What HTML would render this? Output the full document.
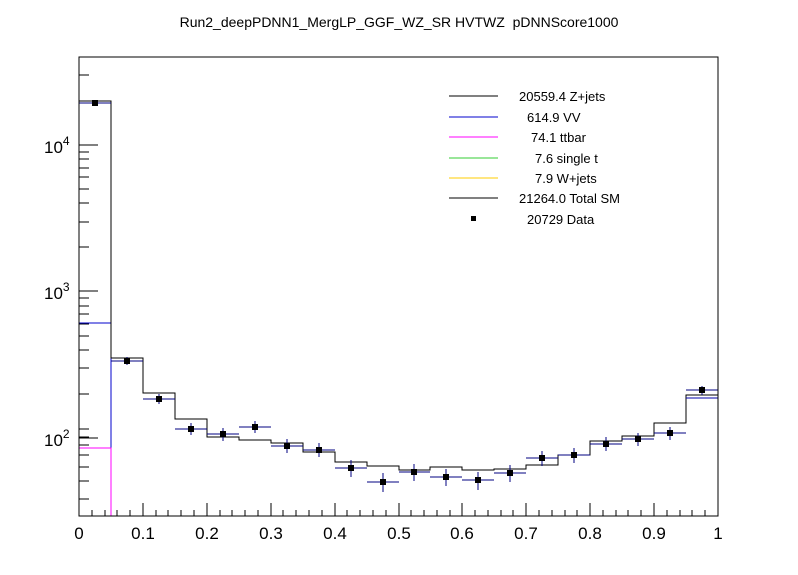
<!DOCTYPE html>
<html><head><meta charset="utf-8"><style>
body{margin:0;background:#fff;}
svg{display:block;font-family:"Liberation Sans",sans-serif;}
</style></head><body>
<svg width="798" height="575" viewBox="0 0 798 575" xmlns="http://www.w3.org/2000/svg">
<rect width="798" height="575" fill="#fff"/>
<text x="399" y="27" font-size="14" text-anchor="middle" xml:space="preserve">Run2_deepPDNN1_MergLP_GGF_WZ_SR HVTWZ  pDNNScore1000</text>
<g shape-rendering="crispEdges">
<path d="M79,323 H111 V516" fill="none" stroke="#0000cc" stroke-width="1"/>
<path d="M79,448 H111 V516" fill="none" stroke="#ff00ff" stroke-width="1"/>
<line x1="79" y1="516" x2="718" y2="516" stroke="#ffcc00" stroke-width="1"/>
<path d="M79,101 H111 V358 H143 V393 H175 V419 H207 V437 H239 V440 H271 V443 H303 V452 H335 V462 H367 V466 H399 V470 H430 V467 H462 V470 H494 V469 H526 V465 H558 V455 H590 V441 H622 V436 H654 V423 H686 V395 H718" fill="none" stroke="#000" stroke-width="1"/>
<path d="M79,103 H111 M111,361 H143 M686,398 H718" fill="none" stroke="#0000aa" stroke-width="1"/>
<g stroke="#000080" stroke-width="1" fill="none">
<path d="M79,103H111M95,102V104"/>
<path d="M111,361H143M127,357V365"/>
<path d="M143,399H175M159,394V404"/>
<path d="M175,429H207M191,423V435"/>
<path d="M207,434H239M223,428V441"/>
<path d="M239,427H271M255,421V433"/>
<path d="M271,446H303M287,439V453"/>
<path d="M303,450H335M319,443V457"/>
<path d="M335,468H367M351,460V477"/>
<path d="M367,482H399M383,473V492"/>
<path d="M399,472H430M414,464V481"/>
<path d="M430,477H462M446,469V486"/>
<path d="M462,480H494M478,472V490"/>
<path d="M494,473H526M510,465V482"/>
<path d="M526,458H558M542,451V466"/>
<path d="M558,455H590M574,448V463"/>
<path d="M590,444H622M606,437V451"/>
<path d="M622,439H654M638,433V446"/>
<path d="M654,433H686M670,427V440"/>
<path d="M686,390H718M702,386V395"/>
</g>
<g fill="#000">
<rect x="92" y="100" width="6" height="6"/><rect x="124" y="358" width="6" height="6"/>
<rect x="156" y="396" width="6" height="6"/><rect x="188" y="426" width="6" height="6"/>
<rect x="220" y="431" width="6" height="6"/><rect x="252" y="424" width="6" height="6"/>
<rect x="284" y="443" width="6" height="6"/><rect x="316" y="447" width="6" height="6"/>
<rect x="348" y="465" width="6" height="6"/><rect x="380" y="479" width="6" height="6"/>
<rect x="411" y="469" width="6" height="6"/><rect x="443" y="474" width="6" height="6"/>
<rect x="475" y="477" width="6" height="6"/><rect x="507" y="470" width="6" height="6"/>
<rect x="539" y="455" width="6" height="6"/><rect x="571" y="452" width="6" height="6"/>
<rect x="603" y="441" width="6" height="6"/><rect x="635" y="436" width="6" height="6"/>
<rect x="667" y="430" width="6" height="6"/><rect x="699" y="387" width="6" height="6"/>
</g>
<rect x="79" y="57" width="639" height="459" fill="none" stroke="#000" stroke-width="1"/>
<g stroke="#000" stroke-width="1">
<path d="M79,516v-13M143,516v-13M207,516v-13M271,516v-13M335,516v-13M399,516v-13M462,516v-13M526,516v-13M590,516v-13M654,516v-13M718,516v-13"/>
<path d="M92,516v-6M105,516v-6M117,516v-6M130,516v-6M156,516v-6M168,516v-6M181,516v-6M194,516v-6M220,516v-6M232,516v-6M245,516v-6M258,516v-6M283,516v-6M296,516v-6M309,516v-6M322,516v-6M347,516v-6M360,516v-6M373,516v-6M386,516v-6M411,516v-6M424,516v-6M437,516v-6M450,516v-6M475,516v-6M488,516v-6M501,516v-6M513,516v-6M539,516v-6M552,516v-6M565,516v-6M577,516v-6M603,516v-6M616,516v-6M628,516v-6M641,516v-6M667,516v-6M680,516v-6M692,516v-6M705,516v-6"/>
<path d="M79,145h19M79,291h19M79,438h19"/>
<path d="M79,499h10M79,481h10M79,467h10M79,455h10M79,445h10M79,437h10M79,429h10
M79,394h10M79,368h10M79,350h10M79,336h10M79,324h10M79,314h10M79,306h10M79,298h10
M79,247h10M79,222h10M79,203h10M79,189h10M79,177h10M79,168h10M79,159h10M79,152h10
M79,101h10M79,75h10"/>
</g>
<g stroke-width="1">
<line x1="449" y1="96" x2="498" y2="96" stroke="#000"/>
<line x1="449" y1="117" x2="498" y2="117" stroke="#0000cc"/>
<line x1="449" y1="137" x2="498" y2="137" stroke="#ff00ff"/>
<line x1="449" y1="158" x2="498" y2="158" stroke="#33cc33"/>
<line x1="449" y1="178" x2="498" y2="178" stroke="#ffcc00"/>
<line x1="449" y1="198" x2="498" y2="198" stroke="#000"/>
</g>
<rect x="471" y="216" width="5" height="5" fill="#000"/>
</g>
<g font-size="17" text-anchor="middle">
<text x="79" y="539">0</text><text x="143" y="539">0.1</text><text x="207" y="539">0.2</text>
<text x="271" y="539">0.3</text><text x="335" y="539">0.4</text><text x="399" y="539">0.5</text>
<text x="462" y="539">0.6</text><text x="526" y="539">0.7</text><text x="590" y="539">0.8</text>
<text x="654" y="539">0.9</text><text x="718" y="539">1</text>
</g>
<g font-size="17">
<text x="44" y="153">10<tspan dy="-8" font-size="12">4</tspan></text>
<text x="44" y="299">10<tspan dy="-8" font-size="12">3</tspan></text>
<text x="44" y="446">10<tspan dy="-8" font-size="12">2</tspan></text>
</g>
<g font-size="13">
<text x="519" y="101">20559.4 Z+jets</text>
<text x="527" y="122">614.9 VV</text>
<text x="531" y="142">74.1 ttbar</text>
<text x="535" y="163">7.6 single t</text>
<text x="535" y="183">7.9 W+jets</text>
<text x="519" y="203">21264.0 Total SM</text>
<text x="527" y="224">20729 Data</text>
</g>
</svg>
</body></html>
